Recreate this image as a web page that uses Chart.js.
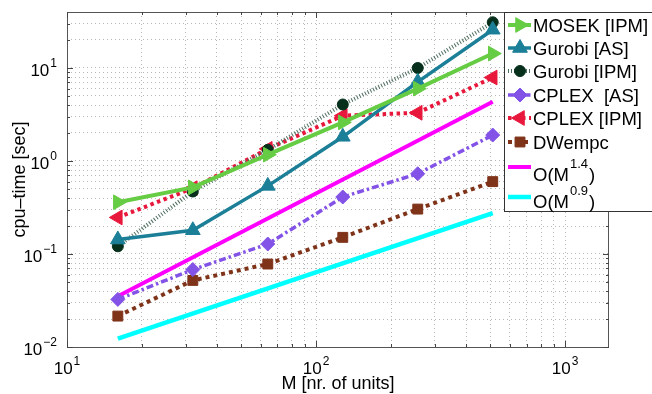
<!DOCTYPE html>
<html>
<head>
<meta charset="utf-8">
<script src="https://cdn.jsdelivr.net/npm/chart.js@4.4.1/dist/chart.umd.min.js"></script>
<style>
  html, body { margin: 0; padding: 0; background: #fff; }
  canvas { display: block; }
</style>
</head>
<body>
<canvas id="cpuTimeChart" width="652" height="394"></canvas>
<script>
// problem size M (nr. of units)
const unitCounts = [16, 32, 64, 128, 256, 512];

// cpu-time [sec]
const mosekIpm  = [0.36, 0.52, 1.17, 2.6, 6.0, 14.3];
const gurobiAs  = [0.143, 0.18, 0.54, 1.82, 7.1, 25.8];
const gurobiIpm = [0.121, 0.47, 1.32, 4.05, 10.0, 31.0];
const cplexAs   = [0.0325, 0.068, 0.128, 0.41, 0.73, 1.9];
const cplexIpm  = [0.247, 0.51, 1.35, 3.07, 3.3, 7.9];
const dwempc    = [0.0215, 0.052, 0.078, 0.151, 0.304, 0.60];

// reference slopes (end points only)
const refUnits = [16, 512];
const orderM14 = [0.0352, 4.33];
const orderM09 = [0.0123, 0.275];

// axis ranges and decade tick labels
const xRange = [10, 1500];
const yRange = [0.01, 40];
const xMajorTicks = [10, 100, 1000];
const xTickExp = ['1', '2', '3'];
const yMajorTicks = [0.01, 0.1, 1, 10];
const yTickExp = ['\u22122', '\u22121', '0', '1'];

const FONT = "'Liberation Sans', Arial, Helvetica, sans-serif";

const pts = ys => ys.map((y, i) => ({ x: unitCounts[i], y }));
const refPts = ys => ys.map((y, i) => ({ x: refUnits[i], y }));

// 1..9 x 10^n inside the range, used for the dotted log grid
function logGrid(min, max) {
  const out = [];
  for (let e = Math.floor(Math.log10(min)); e <= Math.ceil(Math.log10(max)); e++) {
    for (let k = 1; k <= 9; k++) {
      const v = +(k * Math.pow(10, e)).toPrecision(6);
      if (v > min * 1.0001 && v < max * 0.9999) out.push(v);
    }
  }
  return out;
}

const datasets = [
  { label: 'MOSEK [IPM]', data: pts(mosekIpm), borderColor: '#66CC44', backgroundColor: '#66CC44',
    borderWidth: 4, pointStyle: 'triangle', rotation: 90, pointRadius: 8.5 },
  { label: 'Gurobi [AS]', data: pts(gurobiAs), borderColor: '#1C7F98', backgroundColor: '#1C7F98',
    borderWidth: 3.5, pointStyle: 'triangle', rotation: 0, pointRadius: 8.5 },
  { label: 'Gurobi [IPM]', data: pts(gurobiIpm), borderColor: '#4E6E5E', backgroundColor: '#06301C',
    pointBorderColor: '#06301C', borderWidth: 4, borderDash: [1, 2], pointStyle: 'circle', pointRadius: 5.5 },
  { label: 'CPLEX  [AS]', data: pts(cplexAs), borderColor: '#8352E6', backgroundColor: '#8352E6',
    borderWidth: 3.5, borderDash: [7, 3, 2.5, 3], pointStyle: 'rectRot', pointRadius: 7 },
  { label: 'CPLEX [IPM]', data: pts(cplexIpm), borderColor: '#E8183C', backgroundColor: '#E8183C',
    borderWidth: 4, borderDash: [3.5, 3.5], pointStyle: 'triangle', rotation: -90, pointRadius: 8.5 },
  { label: 'DWempc', data: pts(dwempc), borderColor: '#7F3319', backgroundColor: '#7F3319',
    borderWidth: 4, borderDash: [4, 4], pointStyle: 'rect', pointRadius: 7 },
  { label: 'O(M^1.4)', data: refPts(orderM14), borderColor: '#FF00FF', backgroundColor: '#FF00FF',
    borderWidth: 4, pointRadius: 0 },
  { label: 'O(M^0.9)', data: refPts(orderM09), borderColor: '#00FFFF', backgroundColor: '#00FFFF',
    borderWidth: 4.5, pointRadius: 0 }
];
datasets.forEach(d => { d.showLine = true; d.borderCapStyle = 'butt'; d.pointBorderWidth = 1; d.tension = 0; });

// legend rows: [dataset index, base text, superscript, line y, text baseline, superscript baseline]
const legendRows = [
  [0, 'MOSEK [IPM]', null, 25, 32],
  [1, 'Gurobi [AS]', null, 48, 55],
  [2, 'Gurobi [IPM]', null, 71, 78],
  [3, 'CPLEX  [AS]', null, 95, 102],
  [4, 'CPLEX [IPM]', null, 118, 125],
  [5, 'DWempc', null, 142, 149],
  [6, 'O(M', '1.4', 167, 181, 168],
  [7, 'O(M', '0.9', 197, 208, 195]
];

function drawPower(ctx, base, exp, x, y, baseSize, expSize, rise, align) {
  ctx.font = baseSize + 'px ' + FONT;
  const bw = ctx.measureText(base).width;
  ctx.font = expSize + 'px ' + FONT;
  const ew = ctx.measureText(exp).width;
  const total = bw + 1 + ew;
  const left = align === 'center' ? x - total / 2 : (align === 'right' ? x - total : x);
  ctx.textAlign = 'left';
  ctx.textBaseline = 'alphabetic';
  ctx.font = baseSize + 'px ' + FONT;
  ctx.fillText(base, left, y);
  ctx.font = expSize + 'px ' + FONT;
  ctx.fillText(exp, left + bw + 1, y - rise);
  return left + total;
}

const matlabFrame = {
  id: 'matlabFrame',
  afterDatasetsDraw(chart) {
    const { ctx, chartArea: a, scales: { x, y } } = chart;
    ctx.save();

    // box
    ctx.strokeStyle = '#555';
    ctx.lineWidth = 1;
    ctx.strokeRect(a.left + 0.5, a.top + 0.5, a.right - a.left - 1, a.bottom - a.top);

    // inward tick marks on all sides
    ctx.strokeStyle = '#444';
    ctx.beginPath();
    logGrid(xRange[0], xRange[1]).concat(xMajorTicks).forEach(v => {
      const px = Math.round(x.getPixelForValue(v)) + 0.5;
      const len = xMajorTicks.includes(v) ? 6 : 3;
      ctx.moveTo(px, a.bottom); ctx.lineTo(px, a.bottom - len);
      ctx.moveTo(px, a.top); ctx.lineTo(px, a.top + len);
    });
    logGrid(yRange[0], yRange[1]).concat(yMajorTicks).forEach(v => {
      const py = Math.round(y.getPixelForValue(v)) + 0.5;
      const len = yMajorTicks.includes(v) ? 6 : 3;
      ctx.moveTo(a.left, py); ctx.lineTo(a.left + len, py);
      ctx.moveTo(a.right, py); ctx.lineTo(a.right - len, py);
    });
    ctx.stroke();

    // tick labels
    ctx.fillStyle = '#000';
    xMajorTicks.forEach((v, i) => {
      drawPower(ctx, '10', xTickExp[i], x.getPixelForValue(v), 374, 17, 12, 9, 'center');
    });
    yMajorTicks.forEach((v, i) => {
      drawPower(ctx, '10', yTickExp[i], 57, y.getPixelForValue(v) + 8, 17, 12, 9, 'right');
    });

    // axis titles
    ctx.font = '18px ' + FONT;
    ctx.textAlign = 'center';
    ctx.fillText('M [nr. of units]', (a.left + a.right) / 2, 389);
    ctx.translate(25, (a.top + a.bottom) / 2);
    ctx.rotate(-Math.PI / 2);
    ctx.fillText('cpu\u2013time [sec]', 0, 0);
    ctx.restore();

    // legend box
    ctx.save();
    ctx.fillStyle = '#fff';
    ctx.fillRect(504, 12, 160, 200);
    ctx.strokeStyle = '#333';
    ctx.lineWidth = 1;
    ctx.strokeRect(504.5, 12.5, 160, 199);
    legendRows.forEach(([di, text, sup, ly, tb, sb]) => {
      const ds = chart.data.datasets[di];
      ctx.strokeStyle = ds.borderColor;
      ctx.lineWidth = ds.borderWidth;
      ctx.setLineDash(ds.borderDash || []);
      ctx.beginPath();
      ctx.moveTo(508, ly); ctx.lineTo(531, ly);
      ctx.stroke();
      ctx.setLineDash([]);
      if (ds.pointRadius > 0) {
        ctx.fillStyle = ds.backgroundColor;
        ctx.strokeStyle = ds.pointBorderColor || ds.borderColor;
        ctx.lineWidth = 1;
        Chart.helpers.drawPoint(ctx, { pointStyle: ds.pointStyle, radius: ds.pointRadius,
          rotation: ds.rotation || 0, borderWidth: 1 }, 520, ly);
      }
      ctx.fillStyle = '#000';
      ctx.textAlign = 'left';
      ctx.font = '18.5px ' + FONT;
      ctx.fillText(text, 533, tb);
      if (sup) {
        const w = ctx.measureText(text).width;
        ctx.font = '13px ' + FONT;
        ctx.fillText(sup, 534 + w, sb);
        const sw = ctx.measureText(sup).width;
        ctx.font = '18.5px ' + FONT;
        ctx.fillText(')', 535 + w + sw, tb);
      }
    });
    ctx.restore();
  }
};

const gridOpts = { color: '#B8B8B8', lineWidth: 1, drawTicks: false };

new Chart(document.getElementById('cpuTimeChart').getContext('2d'), {
  type: 'scatter',
  data: { datasets },
  options: {
    responsive: false,
    animation: false,
    devicePixelRatio: 1,
    layout: { padding: { left: 67, top: 12, right: 43, bottom: 47 } },
    plugins: { legend: { display: false }, tooltip: { enabled: false } },
    scales: {
      x: {
        type: 'logarithmic', min: xRange[0], max: xRange[1],
        grid: gridOpts, border: { display: false, dash: [1, 3] },
        ticks: { display: false },
        afterBuildTicks: s => { s.ticks = logGrid(xRange[0], xRange[1]).map(value => ({ value })); }
      },
      y: {
        type: 'logarithmic', min: yRange[0], max: yRange[1],
        grid: gridOpts, border: { display: false, dash: [1, 3] },
        ticks: { display: false },
        afterBuildTicks: s => { s.ticks = logGrid(yRange[0], yRange[1]).map(value => ({ value })); }
      }
    }
  },
  plugins: [matlabFrame]
});
</script>
</body>
</html>
